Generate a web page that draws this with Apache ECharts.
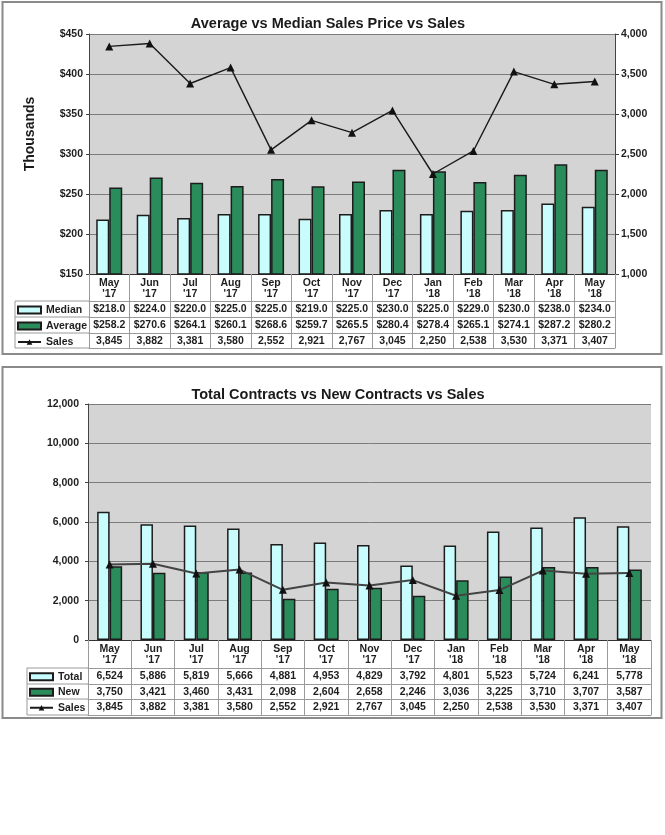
<!DOCTYPE html>
<html><head><meta charset="utf-8">
<script src="https://cdn.jsdelivr.net/npm/echarts@6/dist/echarts.min.js"></script>
<style>html,body{margin:0;padding:0;background:#fff}#c{width:665px;height:835px}</style>
</head><body><div id="c"></div>
<script>
const months = ["May\n'17","Jun\n'17","Jul\n'17","Aug\n'17","Sep\n'17","Oct\n'17","Nov\n'17","Dec\n'17","Jan\n'18","Feb\n'18","Mar\n'18","Apr\n'18","May\n'18"];
const median = [218.0,224.0,220.0,225.0,225.0,219.0,225.0,230.0,225.0,229.0,230.0,238.0,234.0];
const average = [258.2,270.6,264.1,260.1,268.6,259.7,265.5,280.4,278.4,265.1,274.1,287.2,280.2];
const sales = [3845,3882,3381,3580,2552,2921,2767,3045,2250,2538,3530,3371,3407];
const totalContracts = [6524,5886,5819,5666,4881,4953,4829,3792,4801,5523,5724,6241,5778];
const newContracts = [3750,3421,3460,3431,2098,2604,2658,2246,3036,3225,3710,3707,3587];
const priceTicks = {min:150, max:450, interval:50};
const salesTicks = {min:1000, max:4000, interval:500};
const contractTicks = {min:0, max:12000, interval:2000};

const FONT = 'Liberation Sans';
const TXT = '#1e1e1e';
const CYAN = '#c9fcfc', GREEN = '#2b8c5b', EDGE = '#1c1c1c';
const fmtN = v => Number(v).toLocaleString('en-US');
const fmt$ = v => '$' + Number(v).toFixed(1);

const chart = echarts.init(document.getElementById('c'), null, {renderer:'canvas'});

function rowAxis(grid, data, offset, tickLen, showLabel){
  return {
    type:'category', gridIndex:grid, position:'bottom', offset:offset,
    data:data, boundaryGap:true,
    axisLine:{show:true, lineStyle:{color:'#9a9a9a', width:1}},
    axisTick:{show:tickLen>0, length:tickLen, interval:0, lineStyle:{color:'#9a9a9a'}},
    axisLabel:{show:showLabel, interval:0, margin:3, fontFamily:FONT, fontWeight:'bold', fontSize:10.5, color:TXT},
    splitLine:{show:false}
  };
}

const catLabel = {interval:0, margin:4, fontFamily:FONT, fontWeight:'bold', fontSize:10.5, lineHeight:11, color:TXT};

const option = {
  animation:false,
  title:[
    {text:'Average vs Median Sales Price vs Sales', left:323, top:11, textAlign:'center',
     textStyle:{fontFamily:FONT, fontWeight:'bold', fontSize:14.5, color:'#1a1a1a'}},
    {text:'Total Contracts vs New Contracts vs Sales', left:333, top:382, textAlign:'center',
     textStyle:{fontFamily:FONT, fontWeight:'bold', fontSize:14.5, color:'#1a1a1a'}}
  ],
  legend:[
    {orient:'vertical', left:17, top:302, itemGap:0, itemWidth:23, itemHeight:7, padding:0,
     data:[{name:'Median', icon:'rect'},{name:'Average', icon:'rect'},{name:'Sales'}],
     textStyle:{fontFamily:FONT, fontWeight:'bold', fontSize:10.5, color:TXT, lineHeight:16}},
    {orient:'vertical', left:29, top:669, itemGap:0, itemWidth:23, itemHeight:7, padding:0,
     data:[{name:'Total', icon:'rect'},{name:'New', icon:'rect'},{name:'Sales'}],
     textStyle:{fontFamily:FONT, fontWeight:'bold', fontSize:10.5, color:TXT, lineHeight:15.5}}
  ],
  grid:[
    {left:89, right:50, top:34, height:240, show:true, backgroundColor:'#d4d4d4', borderWidth:0},
    {left:88, right:14, top:404, height:236, show:true, backgroundColor:'#d4d4d4', borderWidth:0}
  ],
  xAxis:[
    {type:'category', gridIndex:0, data:months, boundaryGap:true,
     axisLine:{show:true, lineStyle:{color:'#333', width:1}},
     axisTick:{show:true, length:27, interval:0, lineStyle:{color:'#9a9a9a'}},
     axisLabel:catLabel, splitLine:{show:false}},
    rowAxis(0, median.map(fmt$), 27, 16, true),
    rowAxis(0, average.map(fmt$), 43, 16, true),
    rowAxis(0, sales.map(fmtN), 59, 15, true),
    rowAxis(0, months, 74, 0, false),
    {type:'category', gridIndex:1, data:months, boundaryGap:true,
     axisLine:{show:true, lineStyle:{color:'#333', width:1}},
     axisTick:{show:true, length:28, interval:0, lineStyle:{color:'#9a9a9a'}},
     axisLabel:catLabel, splitLine:{show:false}},
    rowAxis(1, totalContracts.map(fmtN), 28, 16, true),
    rowAxis(1, newContracts.map(fmtN), 44, 15, true),
    rowAxis(1, sales.map(fmtN), 59, 16, true),
    rowAxis(1, months, 75, 0, false)
  ],
  yAxis:[
    {type:'value', gridIndex:0, position:'left', min:priceTicks.min, max:priceTicks.max, interval:priceTicks.interval,
     axisLine:{show:true, lineStyle:{color:'#444'}}, axisTick:{show:true, length:3, lineStyle:{color:'#444'}},
     axisLabel:{margin:6, formatter:v=>'$'+v, fontFamily:FONT, fontWeight:'bold', fontSize:10.5, color:TXT},
     splitLine:{show:true, lineStyle:{color:'#7c7c7c', width:1}}},
    {type:'value', gridIndex:0, position:'right', min:salesTicks.min, max:salesTicks.max, interval:salesTicks.interval,
     axisLine:{show:true, lineStyle:{color:'#444'}}, axisTick:{show:true, length:4, lineStyle:{color:'#444'}},
     axisLabel:{margin:6, formatter:fmtN, fontFamily:FONT, fontWeight:'bold', fontSize:10.5, color:TXT},
     splitLine:{show:false}},
    {type:'value', gridIndex:1, position:'left', min:contractTicks.min, max:contractTicks.max, interval:contractTicks.interval,
     axisLine:{show:true, lineStyle:{color:'#444'}}, axisTick:{show:true, length:3, lineStyle:{color:'#444'}},
     axisLabel:{margin:9, formatter:fmtN, fontFamily:FONT, fontWeight:'bold', fontSize:10.5, color:TXT},
     splitLine:{show:true, lineStyle:{color:'#7c7c7c', width:1}}}
  ],
  series:[
    {name:'Median', type:'bar', xAxisIndex:0, yAxisIndex:0, data:median, barWidth:13, barGap:'0%',
     itemStyle:{color:CYAN, borderColor:EDGE, borderWidth:1.5}},
    {name:'Average', type:'bar', xAxisIndex:0, yAxisIndex:0, data:average, barWidth:13, barGap:'0%',
     itemStyle:{color:GREEN, borderColor:EDGE, borderWidth:1.5}},
    {name:'Sales', type:'line', xAxisIndex:0, yAxisIndex:1, data:sales, symbol:'triangle', symbolSize:8,
     lineStyle:{color:'#1a1a1a', width:1.4}, itemStyle:{color:'#111'}, z:5},
    {name:'Total', type:'bar', xAxisIndex:5, yAxisIndex:2, data:totalContracts, barWidth:12.5, barGap:'0%',
     itemStyle:{color:CYAN, borderColor:EDGE, borderWidth:1.5}},
    {name:'New', type:'bar', xAxisIndex:5, yAxisIndex:2, data:newContracts, barWidth:12.5, barGap:'0%',
     itemStyle:{color:GREEN, borderColor:EDGE, borderWidth:1.5}},
    {name:'Sales', type:'line', xAxisIndex:5, yAxisIndex:2, data:sales, symbol:'triangle', symbolSize:8,
     lineStyle:{color:'#444', width:2}, itemStyle:{color:'#111'}, z:5}
  ],
  graphic:[
    {type:'rect', shape:{x:2.5, y:2, width:659, height:352}, style:{fill:'none', stroke:'#8a8a8a', lineWidth:2}, z:-1},
    {type:'rect', shape:{x:2.5, y:367, width:659, height:351}, style:{fill:'none', stroke:'#8a8a8a', lineWidth:2}, z:-1},
    {type:'text', x:30, y:134, rotation:Math.PI/2, style:{text:'Thousands', fontFamily:FONT, fontWeight:'bold', fontSize:14, fill:'#1a1a1a', align:'center', verticalAlign:'middle'}},
    {type:'polyline', shape:{points:[[89,301],[15,301],[15,348],[89,348]]}, style:{fill:'none', stroke:'#9a9a9a', lineWidth:1}},
    {type:'line', shape:{x1:15, y1:317, x2:89, y2:317}, style:{stroke:'#9a9a9a', lineWidth:1}},
    {type:'line', shape:{x1:15, y1:333, x2:89, y2:333}, style:{stroke:'#9a9a9a', lineWidth:1}},
    {type:'polyline', shape:{points:[[88,668],[27,668],[27,715],[88,715]]}, style:{fill:'none', stroke:'#9a9a9a', lineWidth:1}},
    {type:'line', shape:{x1:27, y1:684, x2:88, y2:684}, style:{stroke:'#9a9a9a', lineWidth:1}},
    {type:'line', shape:{x1:27, y1:699, x2:88, y2:699}, style:{stroke:'#9a9a9a', lineWidth:1}}
  ]
};
chart.setOption(option);
</script></body></html>
